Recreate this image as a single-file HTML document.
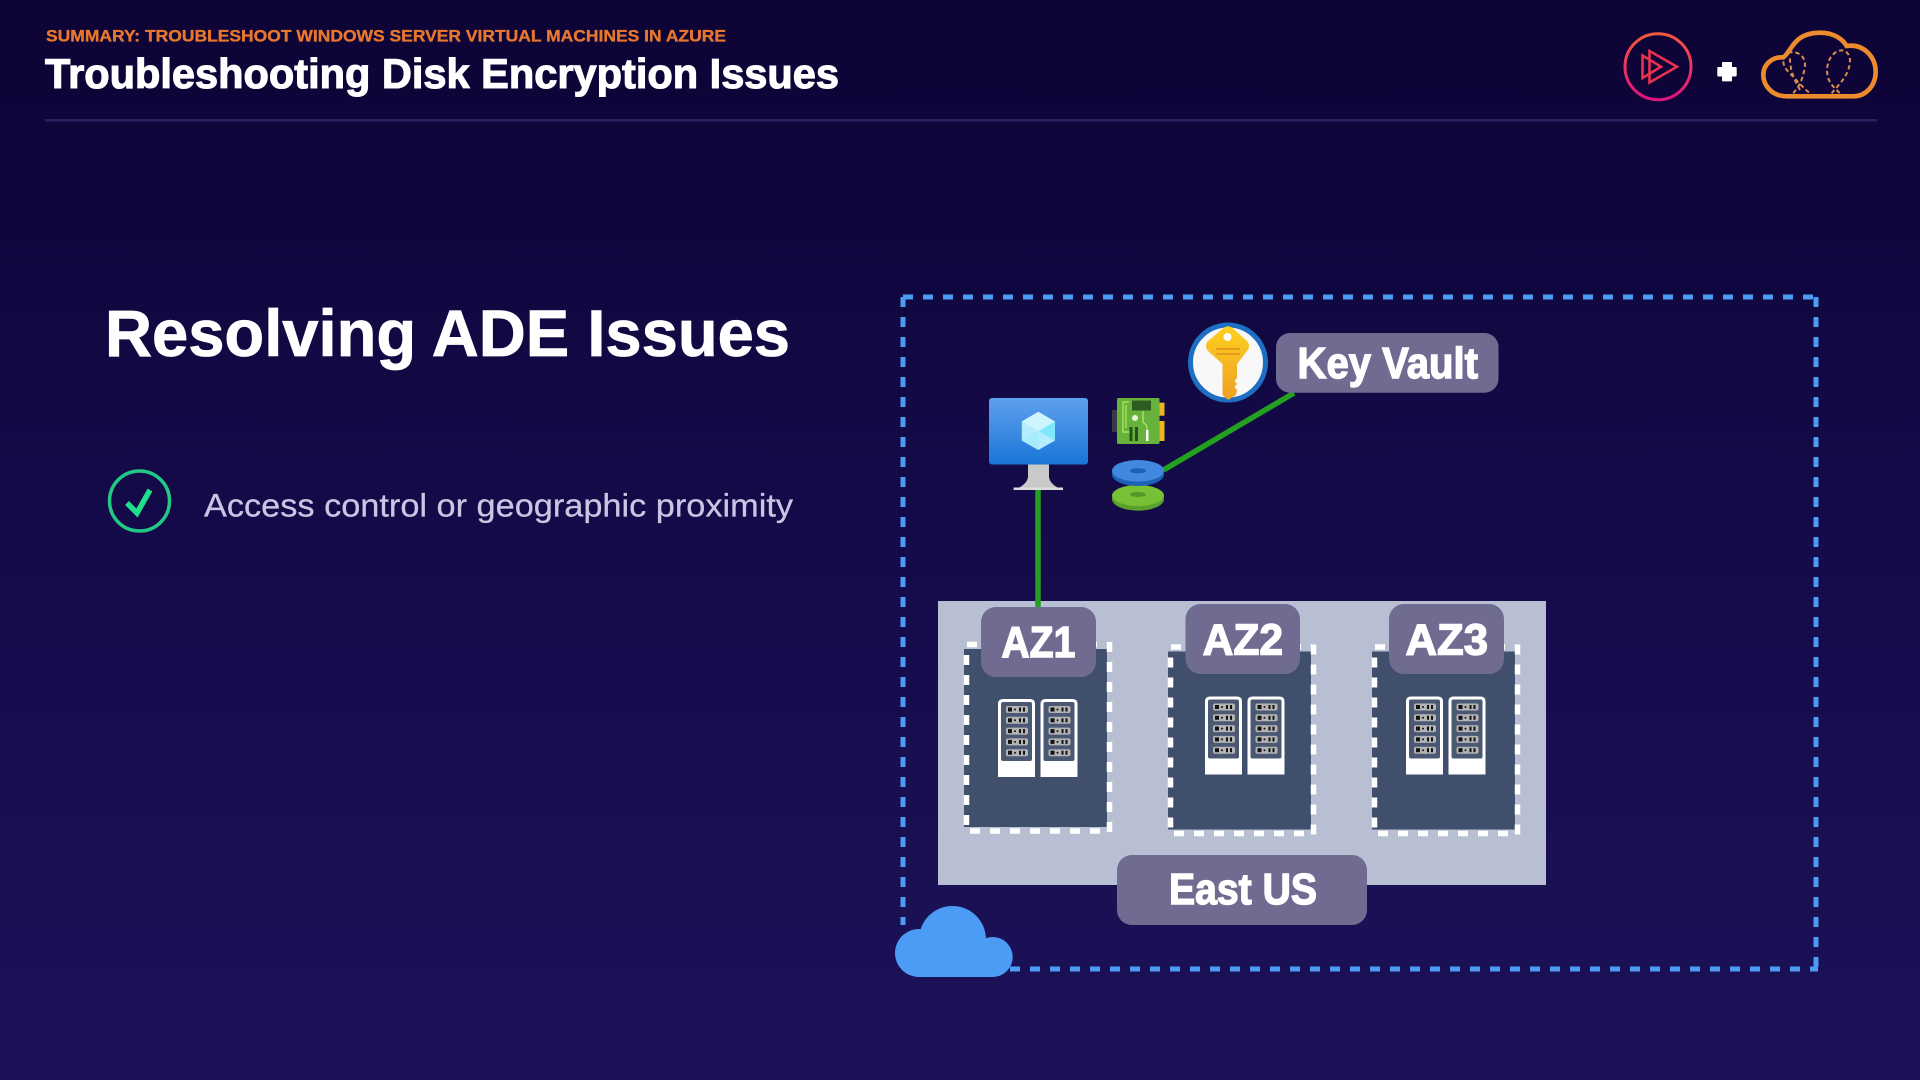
<!DOCTYPE html>
<html>
<head>
<meta charset="utf-8">
<style>
html,body{margin:0;padding:0;width:1920px;height:1080px;overflow:hidden;background:#140a48}
svg{display:block;position:absolute;left:0;top:0}
text{font-family:"Liberation Sans",sans-serif}
</style>
</head>
<body>
<svg width="1920" height="1080" viewBox="0 0 1920 1080" xmlns="http://www.w3.org/2000/svg">
<defs>
<linearGradient id="bg" x1="0" y1="0" x2="0" y2="1">
<stop offset="0" stop-color="#0d0335"/><stop offset="0.45" stop-color="#140a48"/><stop offset="1" stop-color="#1c1259"/>
</linearGradient>
<linearGradient id="ps" x1="0" y1="0" x2="0" y2="1">
<stop offset="0" stop-color="#f0593a"/><stop offset="1" stop-color="#e3127f"/>
</linearGradient>
<linearGradient id="mon" x1="0" y1="0" x2="0" y2="1">
<stop offset="0" stop-color="#5ea0ef"/><stop offset="1" stop-color="#1a75d6"/>
</linearGradient>
<linearGradient id="key" x1="0" y1="0" x2="0" y2="1">
<stop offset="0" stop-color="#fcd020"/><stop offset="1" stop-color="#f0a024"/>
</linearGradient>
<symbol id="rack" viewBox="0 0 37 78" width="37" height="78">
<path d="M0 78V5Q0 0 5 0H32Q37 0 37 5V78Z" fill="#fff"/>
<rect x="3" y="3" width="31" height="59" rx="2" fill="#4a5873"/>
<g><rect x="8" y="7" width="22" height="7" rx="2" fill="#b4b4b4"/><rect x="10" y="8.5" width="4" height="4" fill="#111"/><circle cx="17" cy="10.5" r="1" fill="#111"/><rect x="21" y="8.5" width="2" height="4" fill="#111"/><rect x="25" y="8.5" width="2" height="4" fill="#111"/></g>
<g transform="translate(0,10.8)"><rect x="8" y="7" width="22" height="7" rx="2" fill="#b4b4b4"/><rect x="10" y="8.5" width="4" height="4" fill="#111"/><circle cx="17" cy="10.5" r="1" fill="#111"/><rect x="21" y="8.5" width="2" height="4" fill="#111"/><rect x="25" y="8.5" width="2" height="4" fill="#111"/></g>
<g transform="translate(0,21.6)"><rect x="8" y="7" width="22" height="7" rx="2" fill="#b4b4b4"/><rect x="10" y="8.5" width="4" height="4" fill="#111"/><circle cx="17" cy="10.5" r="1" fill="#111"/><rect x="21" y="8.5" width="2" height="4" fill="#111"/><rect x="25" y="8.5" width="2" height="4" fill="#111"/></g>
<g transform="translate(0,32.4)"><rect x="8" y="7" width="22" height="7" rx="2" fill="#b4b4b4"/><rect x="10" y="8.5" width="4" height="4" fill="#111"/><circle cx="17" cy="10.5" r="1" fill="#111"/><rect x="21" y="8.5" width="2" height="4" fill="#111"/><rect x="25" y="8.5" width="2" height="4" fill="#111"/></g>
<g transform="translate(0,43.2)"><rect x="8" y="7" width="22" height="7" rx="2" fill="#b4b4b4"/><rect x="10" y="8.5" width="4" height="4" fill="#111"/><circle cx="17" cy="10.5" r="1" fill="#111"/><rect x="21" y="8.5" width="2" height="4" fill="#111"/><rect x="25" y="8.5" width="2" height="4" fill="#111"/></g>
</symbol>
</defs>

<rect width="1920" height="1080" fill="url(#bg)"/>

<!-- Header -->
<text x="46" y="41.5" font-size="16.5" font-weight="700" fill="#e8772e" stroke="#e8772e" stroke-width="0.35" textLength="680" lengthAdjust="spacingAndGlyphs">SUMMARY: TROUBLESHOOT WINDOWS SERVER VIRTUAL MACHINES IN AZURE</text>
<text x="45" y="88" font-size="42" font-weight="700" fill="#fff" stroke="#fff" stroke-width="1.1" textLength="794" lengthAdjust="spacingAndGlyphs">Troubleshooting Disk Encryption Issues</text>
<rect x="45" y="119" width="1832" height="2.5" fill="#2a2163"/>

<!-- Pluralsight logo -->
<circle cx="1658" cy="66.7" r="33" fill="none" stroke="url(#ps)" stroke-width="3"/>
<path d="M1649.5 51L1677 66.7L1649.5 82.5Z" fill="none" stroke="#e8304f" stroke-width="2.6"/>
<path d="M1642.5 55.5L1661 66.7L1642.5 78Z" fill="none" stroke="#e8304f" stroke-width="2.6"/>
<!-- plus -->
<rect x="1717.3" y="67" width="19.4" height="9.5" rx="1" fill="#fff"/>
<rect x="1722" y="62" width="10" height="19.4" rx="1" fill="#fff"/>
<!-- orange cloud -->
<g transform="translate(1600,10) scale(0.3333)">
<path d="M560 259C515 259 490 225 490 195C490 160 520 140 550 142C575 125 580 68 660 68C705 68 730 90 740 108C790 100 827 140 827 185C827 230 795 259 760 259Z" fill="none" stroke="#ec8b2e" stroke-width="14"/>
<g fill="none" stroke="#d98e4e" stroke-width="6" stroke-dasharray="13 9">
<path d="M580 250C590 235 605 225 615 170C618 135 590 122 565 128C545 140 545 165 565 185C585 205 600 225 630 250"/>
<path d="M570 145C570 190 590 220 600 240"/>
<path d="M695 250C715 225 750 195 750 150C748 125 730 115 710 125C685 140 675 175 685 205C692 225 705 235 720 250"/>
</g>
</g>

<!-- Left content -->
<text x="105" y="356" font-size="66" font-weight="700" fill="#fff" stroke="#fff" stroke-width="0.8" textLength="685" lengthAdjust="spacingAndGlyphs">Resolving ADE Issues</text>
<circle cx="139.5" cy="501" r="30" fill="none" stroke="#23c886" stroke-width="3.5"/>
<path d="M127 503L137 513L150 490" fill="none" stroke="#1fe08a" stroke-width="5.5"/>
<text x="204" y="516.5" font-size="32" fill="#c9c6e4" stroke="#c9c6e4" stroke-width="0.25" textLength="589" lengthAdjust="spacingAndGlyphs">Access control or geographic proximity</text>

<!-- Outer dashed -->
<g fill="none" stroke="#4c9cf5" stroke-width="5" stroke-dasharray="10 10">
<line x1="903" y1="297" x2="1817" y2="297"/>
<line x1="903" y1="297" x2="903" y2="925"/>
<line x1="1816" y1="297" x2="1816" y2="970"/>
<line x1="1010" y1="969" x2="1818" y2="969"/>
</g>

<!-- Region -->
<rect x="938" y="601" width="608" height="284" fill="#b8bfd2"/>

<!-- connectors -->
<line x1="1038" y1="490" x2="1038" y2="610" stroke="#23a020" stroke-width="5.5"/>
<line x1="1163.5" y1="470" x2="1294" y2="393" stroke="#23a020" stroke-width="5.5"/>

<!-- AZ panels -->
<g>
<rect x="964" y="649" width="143" height="178" fill="#3f4f6c"/>
<g fill="none" stroke="#fff" stroke-width="5.5" stroke-dasharray="10 10">
<line x1="967" y1="644.5" x2="1108" y2="644.5"/>
<line x1="966.5" y1="655" x2="966.5" y2="825"/>
<line x1="970" y1="831" x2="1107" y2="831"/>
<line x1="1109.5" y1="642" x2="1109.5" y2="834"/>
</g>
</g>
<g transform="translate(204,2.5)">
<rect x="964" y="649" width="143" height="178" fill="#3f4f6c"/>
<g fill="none" stroke="#fff" stroke-width="5.5" stroke-dasharray="10 10">
<line x1="967" y1="644.5" x2="1108" y2="644.5"/>
<line x1="966.5" y1="655" x2="966.5" y2="825"/>
<line x1="970" y1="831" x2="1107" y2="831"/>
<line x1="1109.5" y1="642" x2="1109.5" y2="834"/>
</g>
</g>
<g transform="translate(408,2.5)">
<rect x="964" y="649" width="143" height="178" fill="#3f4f6c"/>
<g fill="none" stroke="#fff" stroke-width="5.5" stroke-dasharray="10 10">
<line x1="967" y1="644.5" x2="1108" y2="644.5"/>
<line x1="966.5" y1="655" x2="966.5" y2="825"/>
<line x1="970" y1="831" x2="1107" y2="831"/>
<line x1="1109.5" y1="642" x2="1109.5" y2="834"/>
</g>
</g>

<!-- Racks -->
<use href="#rack" x="998" y="699"/><use href="#rack" x="1040.5" y="699"/>
<use href="#rack" x="1205" y="696.5"/><use href="#rack" x="1247.5" y="696.5"/>
<use href="#rack" x="1406" y="696.5"/><use href="#rack" x="1448.5" y="696.5"/>

<!-- Labels -->
<g fill="#6f6b91">
<rect x="981" y="607" width="115" height="70" rx="15"/>
<rect x="1185.5" y="604" width="114.5" height="70" rx="15"/>
<rect x="1389" y="604" width="115" height="70" rx="15"/>
<rect x="1117" y="855" width="250" height="70" rx="15"/>
<rect x="1276" y="333" width="222.5" height="59.7" rx="14"/>
</g>
<g fill="#fff" stroke="#fff" stroke-width="1.4" font-size="44" font-weight="700">
<text x="1001.4" y="657" textLength="74" lengthAdjust="spacingAndGlyphs">AZ1</text>
<text x="1202.6" y="654.5" textLength="80.5" lengthAdjust="spacingAndGlyphs">AZ2</text>
<text x="1405.5" y="654.5" textLength="82.5" lengthAdjust="spacingAndGlyphs">AZ3</text>
<text x="1169" y="904" textLength="148" lengthAdjust="spacingAndGlyphs">East US</text>
<text x="1297.5" y="378" textLength="180.5" lengthAdjust="spacingAndGlyphs">Key Vault</text>
</g>

<!-- Monitor -->
<path d="M1028 464H1049V477Q1050 485 1063 490H1013.6Q1027 485 1028 477Z" fill="#c9c9c9"/>
<rect x="1013.6" y="487.5" width="49.4" height="2.5" fill="#dcdcdc"/>
<rect x="989" y="398" width="99" height="66.5" rx="3" fill="url(#mon)"/>
<path d="M1038.3 411.7L1055 421.5V440.5L1038.3 450L1021.8 440.5V421.5Z" fill="#b4eefe"/>
<path d="M1038.3 411.7L1055 421.5L1038.3 431L1021.8 421.5Z" fill="#cdf4ff"/>
<path d="M1038.3 431L1055 421.5V440.5Z" fill="#7fe8fd"/>
<path d="M1038.3 431L1021.8 440.5L1038.3 450Z" fill="#a6ecfe"/>

<!-- Chip -->
<rect x="1112" y="410" width="6" height="22" fill="#3a3a4a"/>
<rect x="1158" y="402.7" width="6.5" height="13" fill="#eab71f"/>
<rect x="1158" y="421" width="6.5" height="20" fill="#eab71f"/>
<rect x="1117" y="398" width="42.5" height="46" rx="1.5" fill="#67b23a"/>
<rect x="1132" y="400.5" width="19" height="10" fill="#2f5c22"/>
<g fill="none" stroke="#bbe96a" stroke-width="1.2">
<path d="M1129 402H1123V432H1132"/>
<path d="M1126 405V428"/>
<path d="M1143 411V422L1147 426V440"/>
</g>
<circle cx="1135" cy="418" r="3" fill="#e6f5d8"/>
<rect x="1129.5" y="427" width="3" height="14" fill="#25501c"/>
<rect x="1135" y="427" width="3" height="14" fill="#25501c"/>
<rect x="1146" y="430" width="2.5" height="11" fill="#fff"/>

<!-- Disks -->
<ellipse cx="1138" cy="499" rx="26" ry="11.7" fill="#5aa02c"/>
<ellipse cx="1138" cy="495.5" rx="26" ry="10.5" fill="#76c234"/>
<ellipse cx="1138" cy="494.5" rx="8" ry="2.5" fill="#57962b"/>
<ellipse cx="1138" cy="474.5" rx="26" ry="11.5" fill="#1c62b4"/>
<ellipse cx="1138" cy="470.8" rx="26" ry="10.8" fill="#4189e0"/>
<ellipse cx="1138" cy="470.8" rx="8" ry="2.5" fill="#1c62b4"/>

<!-- Key Vault icon -->
<circle cx="1228" cy="362.5" r="37.5" fill="#f8f8f8" stroke="#1e6fc4" stroke-width="5"/>
<path d="M1224 327.5Q1228 325 1232 327.5L1247 341Q1251 346 1247 351L1237 364V378L1234.5 381L1237 384L1234.5 387L1237 390L1236 395L1228 400L1222.5 395V364L1208 351Q1204 346 1208 341Z" fill="url(#key)"/>
<circle cx="1227.5" cy="337" r="4" fill="#fff"/>
<rect x="1216" y="348" width="24" height="2" fill="#e89a1c"/>
<rect x="1216" y="353" width="24" height="2" fill="#e89a1c"/>

<!-- Blue cloud -->
<g fill="#4c9cf5">
<circle cx="952.5" cy="939.5" r="33.5"/>
<circle cx="919" cy="953" r="24"/>
<circle cx="992.7" cy="957" r="20"/>
<rect x="919" y="945" width="74" height="32"/>
</g>
</svg>
</body>
</html>
